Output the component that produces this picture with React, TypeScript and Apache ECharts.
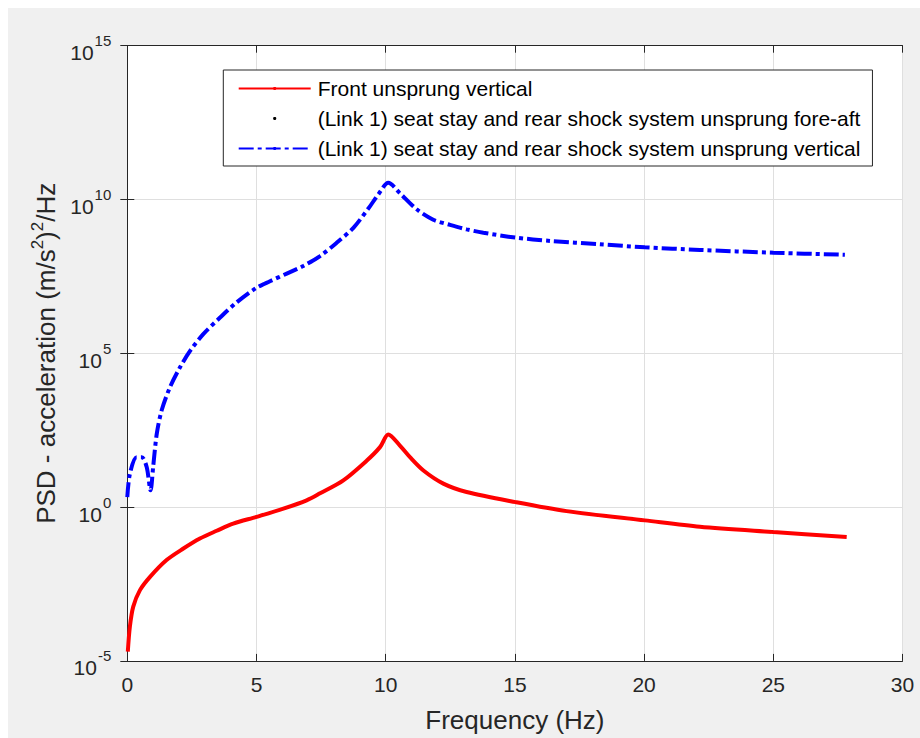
import React, { useEffect, useRef } from "react";
import * as echarts from "echarts";

// Frequency (Hz) and PSD values
const freqFront = [0.02, 0.1, 0.23, 0.49, 0.88, 1.52, 2.17, 2.81, 3.46, 4.1, 5.0, 6.04, 6.94, 7.46, 8.36, 9.26, 9.78, 10.1, 10.55, 10.94, 11.46, 12.23, 13.13, 15.03, 17.0, 20.03, 22.16, 25.0, 27.84];
const psdFront = [2.0e-5, 1.3e-4, 5.8e-4, 2.0e-3, 5.4e-3, 1.9e-2, 4.5e-2, 9.5e-2, 0.17, 0.29, 0.48, 0.89, 1.66, 2.8, 7.4, 32, 89, 230, 100, 42, 15.5, 5.8, 3.1, 1.45, 0.74, 0.37, 0.23, 0.155, 0.107];

const freqRear = [0.0, 0.1, 0.36, 0.56, 0.75, 0.9, 1.0, 1.14, 1.33, 1.65, 2.04, 2.43, 2.94, 3.59, 4.23, 4.97, 5.52, 6.17, 6.81, 7.46, 8.1, 8.75, 9.39, 9.71, 10.1, 10.55, 11.2, 11.84, 12.49, 13.13, 13.78, 15.03, 16.36, 18.29, 20.03, 22.16, 25.0, 27.77];
const psdRear = [2.1, 12, 42, 42, 20, 3.5, 20, 240, 1400, 7800, 3.5e4, 1.2e5, 4.2e5, 1.45e6, 4.5e6, 1.3e7, 2.2e7, 3.9e7, 6.9e7, 1.45e8, 3.9e8, 1.2e9, 6.0e9, 1.45e10, 3.5e10, 1.6e10, 4.8e9, 2.2e9, 1.5e9, 1.07e9, 8.3e8, 5.8e8, 4.5e8, 3.5e8, 2.8e8, 2.3e8, 1.86e8, 1.6e8];

// fore-aft series has no visible values on the log axis
const freqForeAft: number[] = [];
const psdForeAft: number[] = [];

const seriesNames = [
  "Front unsprung vertical",
  "(Link 1) seat stay and rear shock system unsprung fore-aft",
  "(Link 1) seat stay and rear shock system unsprung vertical",
];

const xLabel = "Frequency (Hz)";
const yLabelRich = "{a|PSD - acceleration (m/s}{s|2}{a|)}{s|2}{a|/Hz}";

const FONT = "'Liberation Sans', Arial, Helvetica, sans-serif";
const AX = "#262626";

export default function App() {
  const ref = useRef<HTMLDivElement>(null);
  useEffect(() => {
    if (!ref.current) return;
    const chart = echarts.init(ref.current, undefined, { renderer: "svg" });
    const zip = (xs: number[], ys: number[]) => xs.map((x, i) => [x, ys[i]]);
    const tickLabel = (v: number) => {
      const e = Math.round(Math.log10(v));
      return `{b|10}{s|${e}}`;
    };
    const xBase = {
      type: "value" as const,
      min: 0,
      max: 30,
      interval: 5,
      axisLine: { show: true, lineStyle: { color: AX, width: 1 } },
      axisTick: { show: true, inside: true, length: 7, lineStyle: { color: AX } },
    };
    const yBase = {
      type: "log" as const,
      logBase: 10,
      min: 1e-5,
      max: 1e15,
      interval: 5,
      axisLine: { show: true, lineStyle: { color: AX, width: 1 } },
      axisTick: { show: true, inside: true, length: 7, lineStyle: { color: AX } },
      minorTick: { show: false },
    };
    chart.setOption({
      animation: false,
      backgroundColor: "#f0f0f0",
      grid: {
        left: 119.3,
        top: 37.7,
        right: 17.5,
        bottom: 77.1,
        show: true,
        backgroundColor: "#ffffff",
        borderWidth: 0,
      },
      legend: {
        orient: "vertical",
        left: 215.3,
        top: 62,
        padding: [8, 12, 7, 14.4],
        itemWidth: 72,
        itemHeight: 4,
        itemGap: 9,
        backgroundColor: "#ffffff",
        borderColor: AX,
        borderWidth: 1,
        borderRadius: 0,
        textStyle: { fontFamily: FONT, fontSize: 21, color: "#000", padding: [0, 0, 0, 2] },
        data: seriesNames,
      },
      xAxis: [
        {
          ...xBase,
          position: "bottom",
          name: xLabel,
          nameLocation: "middle",
          nameGap: 46,
          nameTextStyle: { fontFamily: FONT, fontSize: 26, color: AX },
          axisLabel: { fontFamily: FONT, fontSize: 21, color: AX, margin: 13 },
          splitLine: { show: true, lineStyle: { color: "#dfdfdf", width: 1 } },
        },
        {
          ...xBase,
          position: "top",
          axisLabel: { show: false },
          splitLine: { show: false },
        },
      ],
      yAxis: [
        {
          ...yBase,
          position: "left",
          name: yLabelRich,
          nameLocation: "middle",
          nameGap: 66,
          nameTextStyle: {
            rich: {
              a: { fontFamily: FONT, fontSize: 26, color: AX, lineHeight: 30, verticalAlign: "bottom" },
              s: { fontFamily: FONT, fontSize: 17, color: AX, lineHeight: 17, verticalAlign: "top" },
            },
          },
          axisLabel: {
            margin: 16,
            formatter: tickLabel,
            rich: {
              b: { fontFamily: FONT, fontSize: 21, color: AX, lineHeight: 35, verticalAlign: "bottom" },
              s: { fontFamily: FONT, fontSize: 15, color: AX, lineHeight: 15, padding: [5, 0, 0, 1], verticalAlign: "top" },
            },
          },
          splitLine: { show: true, lineStyle: { color: "#dfdfdf", width: 1 } },
        },
        {
          ...yBase,
          position: "right",
          axisLabel: { show: false },
          splitLine: { show: false },
        },
      ],
      series: [
        {
          name: seriesNames[0],
          type: "line",
          xAxisIndex: 0,
          yAxisIndex: 0,
          data: zip(freqFront, psdFront),
          symbol: "none",
          smooth: 0.3,
          color: "#ff0000",
          lineStyle: { color: "#ff0000", width: 4 },
        },
        {
          name: seriesNames[1],
          type: "line",
          xAxisIndex: 0,
          yAxisIndex: 0,
          data: zip(freqForeAft, psdForeAft),
          symbol: "circle",
          symbolSize: 3,
          color: "#000000",
          lineStyle: { width: 0, opacity: 0 },
        },
        {
          name: seriesNames[2],
          type: "line",
          xAxisIndex: 0,
          yAxisIndex: 0,
          data: zip(freqRear, psdRear),
          symbol: "none",
          smooth: 0.3,
          color: "#0000ff",
          lineStyle: { color: "#0000ff", width: 4, type: [15, 4, 4, 4] },
        },
      ],
    });
    return () => chart.dispose();
  }, []);
  return (
    <div
      ref={ref}
      style={{ position: "fixed", left: 8, top: 8, width: 912, height: 730, background: "#f0f0f0" }}
    />
  );
}
